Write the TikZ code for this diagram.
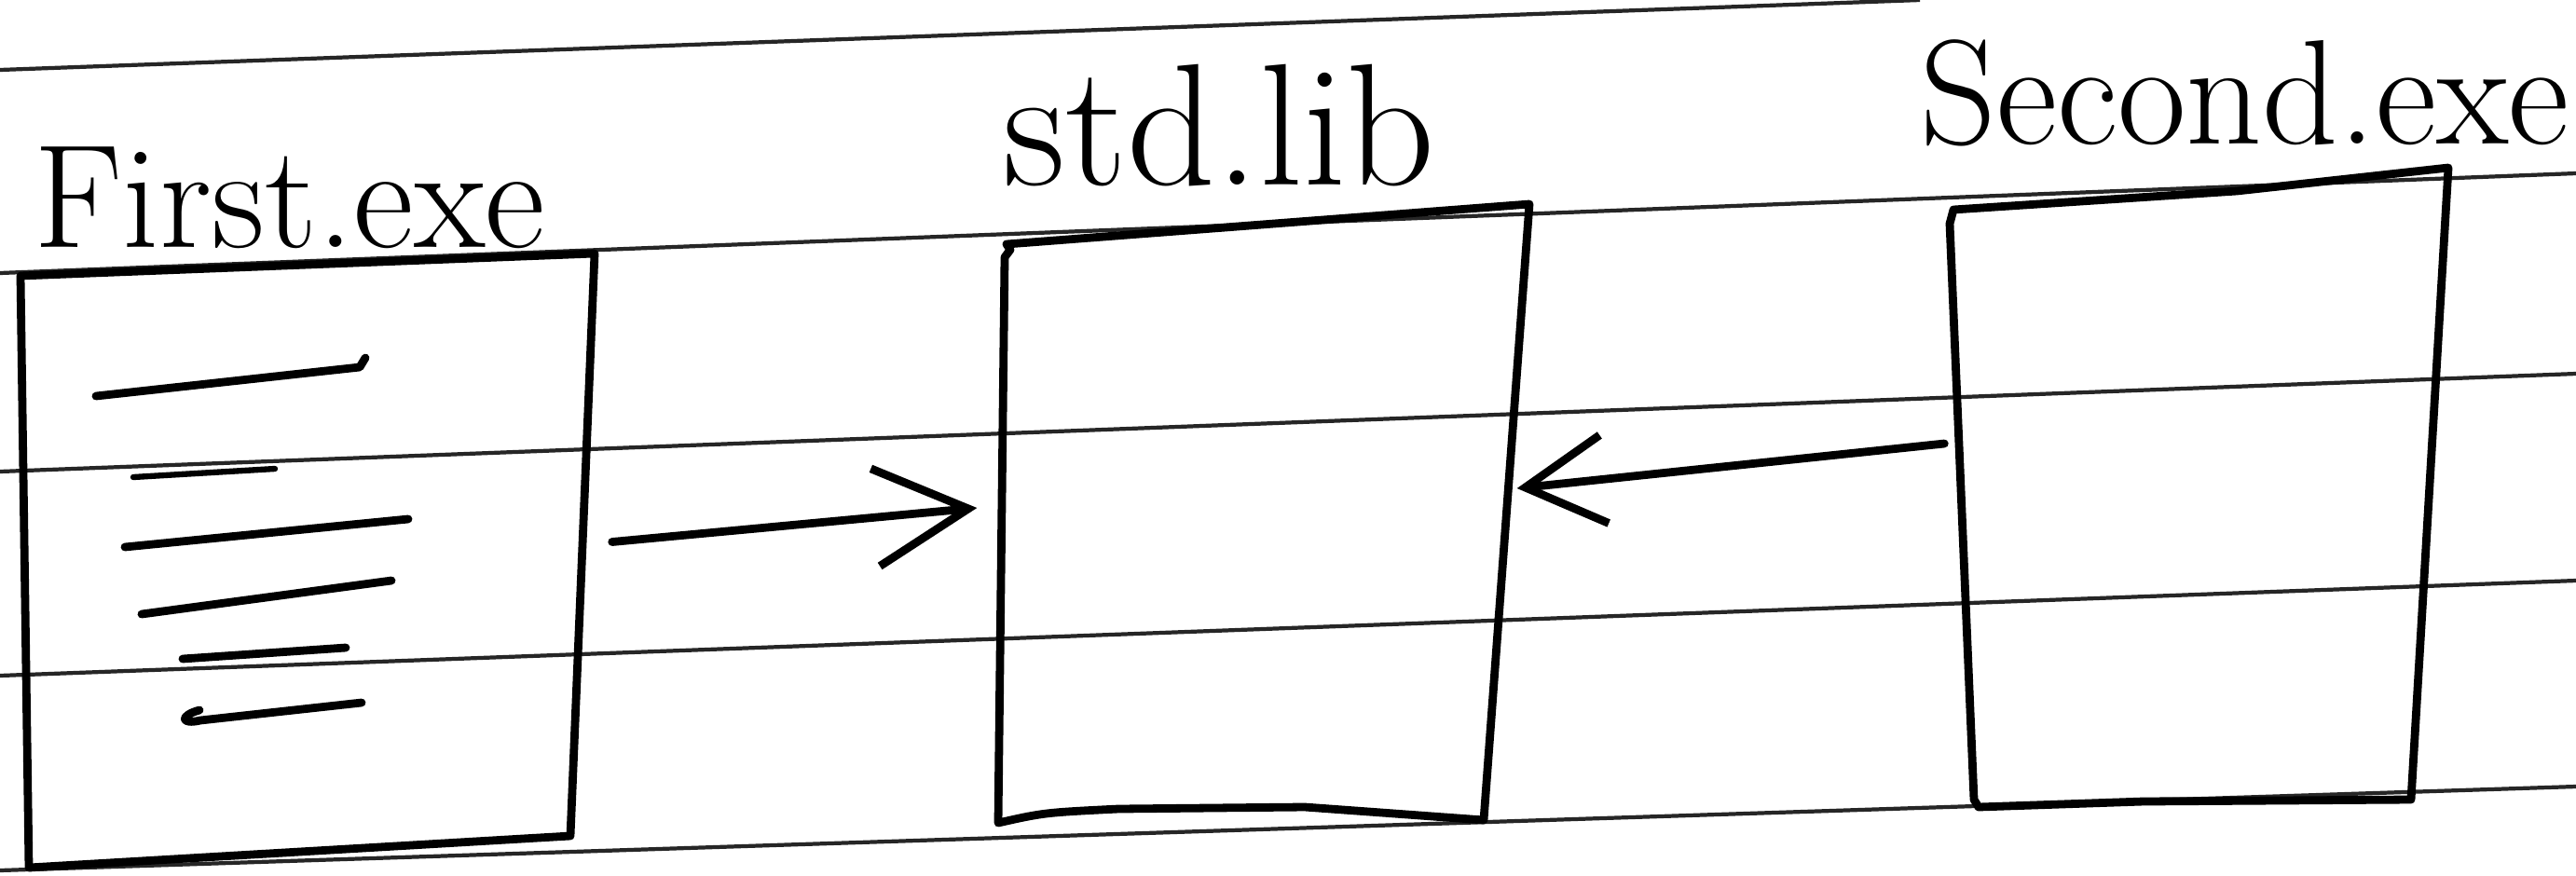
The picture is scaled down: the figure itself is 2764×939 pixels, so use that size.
\documentclass[tikz,border=0pt]{standalone}
\usetikzlibrary{arrows.meta,fit}
\begin{document}
\begin{tikzpicture}[x=0.01cm,y=-0.01cm,
  ruled/.style={line width=1.2pt,black!85},
  pen/.style={line width=2.5pt,line cap=round,line join=round},
  boxfit/.style={inner sep=0pt},
  arr/.style={pen,-{Straight Barb[length=1cm,width=1.05cm]}},
  arrb/.style={pen,-{Straight Barb[length=0.85cm,width=0.95cm]}},
  lbl/.style={inner sep=0pt,anchor=base west}]
\useasboundingbox (0,0) rectangle (2764,939);
\fill[white] (0,0) rectangle (2764,939);
% ruled paper lines
\draw[ruled] (0,75) -- (2060,0);
\draw[ruled] (0,293) -- (2764,186);
\draw[ruled] (0,506) -- (2764,401);
\draw[ruled] (0,725) -- (2764,623);
\draw[ruled] (0,934) -- (2764,844);
% box 1: First.exe
\coordinate (f1) at (22,296);
\coordinate (f2) at (638,272);
\coordinate (f3) at (612,897);
\coordinate (f4) at (31,931);
\draw[pen] (f1) -- (f2) -- (f3) -- (f4) -- cycle;
\node[boxfit,fit=(f1)(f2)(f3)(f4)] (first) {};
% text lines inside box 1
\draw[pen] (103,425) -- (386,394) -- (392,384);
\draw[pen,line width=1.8pt] (143,512) -- (295,503);
\draw[pen] (134,587) -- (438,557);
\draw[pen] (152,659) -- (420,623);
\draw[pen] (196,707) -- (371,695);
\draw[pen] (214,762) .. controls (192,768) and (194,778) .. (215,773) -- (388,754);
% box 2: std.lib
\coordinate (s1) at (1080,262);
\coordinate (s2) at (1641,219);
\coordinate (s3) at (1592,880);
\coordinate (s4) at (1071,883);
\draw[pen] (1084,268) -- (1078,276) -- (s4) .. controls (1120,872) .. (1200,868) -- (1400,866) -- (s3) -- (s2) -- (s1) -- cycle;
\node[boxfit,fit=(s1)(s2)(s3)(s4)] (lib) {};
% box 3: Second.exe
\coordinate (c1) at (2096,225);
\coordinate (c2) at (2627,180);
\coordinate (c3) at (2587,858);
\coordinate (c4) at (2123,866);
\coordinate (c5) at (2092,240);
\draw[pen] (c5) -- (c1) -- (2400,205) -- (c2) -- (c3) -- (2300,860) -- (c4) -- (2118,858) -- (c5) -- cycle;
\node[boxfit,fit=(c1)(c2)(c3)(c4)(c5)] (second) {};
% labels
\node[lbl,font=\fontsize{45}{50}\selectfont] (lfirst) at (36,265) {First.exe};
\node[lbl,font=\fontsize{53}{58}\selectfont] (llib) at (1076,198) {std.lib};
\node[lbl,font=\fontsize{45.5}{50}\selectfont] (lsecond) at (2060,154) {Second.exe};
% connectors
\draw[arr] ([shift={(18,-20)}]first.east) -- ([shift={(-22,-6)}]lib.west);
\draw[arrb] ([shift={(-5,-47)}]second.west) -- ([shift={(-14,-27)}]lib.east);
\end{tikzpicture}
\end{document}
